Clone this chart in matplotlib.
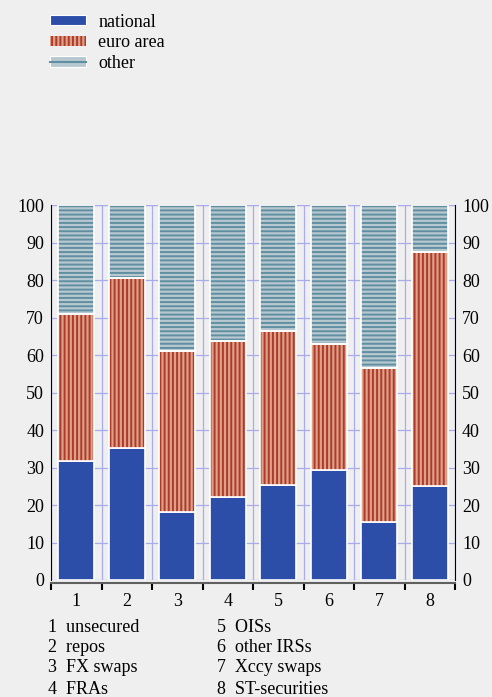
import numpy as np
import matplotlib
matplotlib.use("Agg")
import matplotlib.pyplot as plt
from matplotlib.patches import Patch
from matplotlib.lines import Line2D

plt.rcParams['font.family'] = ['Liberation Serif', 'DejaVu Serif']
plt.rcParams['font.size'] = 13
plt.rcParams['hatch.linewidth'] = 1.4

# data (percent shares)
categories = ["1", "2", "3", "4", "5", "6", "7", "8"]
national = [31.8, 35.2, 18.2, 22.2, 25.4, 29.3, 15.6, 25.1]
euro_top = [70.9, 80.5, 61.0, 63.7, 66.3, 63.0, 56.6, 87.6]
cat_names = ["unsecured", "repos", "FX swaps", "FRAs",
             "OISs", "other IRSs", "Xccy swaps", "ST-securities"]

national = np.array(national)
euro_area = np.array(euro_top) - national
other = 100 - np.array(euro_top)

bg = "#efefef"
c_nat = "#2c4ea8"
c_euro = "#dba18b"
c_euro_h = "#b03a28"
c_oth = "#b8c8d0"
c_oth_h = "#5f8fa0"
grid_c = "#a8acec"

fig = plt.figure(figsize=(4.92, 6.97), dpi=100, facecolor=bg)
ax = fig.add_axes([51/492, 1-580/697, 404/492, 375/697], facecolor=bg)

x = np.arange(1, len(categories)+1)
w = 0.71

ax.bar(x, national, w, color=c_nat, edgecolor="white", linewidth=1.2, zorder=3)
ax.bar(x, euro_area, w, bottom=national, color=c_euro, edgecolor=c_euro_h,
       hatch="||||", linewidth=0, zorder=3)
ax.bar(x, other, w, bottom=national+euro_area, color=c_oth, edgecolor=c_oth_h,
       hatch="----", linewidth=0, zorder=3)
# white outlines over the hatched segments
ax.bar(x, euro_area, w, bottom=national, fill=False, edgecolor="white", linewidth=1.2, zorder=4)
ax.bar(x, other, w, bottom=national+euro_area, fill=False, edgecolor="white", linewidth=1.2, zorder=4)

ax.set_xlim(0.5, 8.5)
ax.set_ylim(0, 100)
ax.set_yticks(np.arange(0, 101, 10))
ax.set_xticks(x)
ax.set_xticklabels(categories)
ax.set_xticks(np.arange(0.5, 9, 1), minor=True)

ax.grid(True, which="major", axis="y", color=grid_c, lw=0.9, zorder=1)
ax.grid(True, which="minor", axis="x", color=grid_c, lw=0.9, zorder=1)
ax.axhline(100, color=grid_c, lw=0.9, zorder=1)

ax.tick_params(axis="y", which="both", length=0, labelright=True, pad=5, labelsize=13)
ax.tick_params(axis="x", which="major", length=0, pad=7, labelsize=13)
ax.tick_params(axis="x", which="minor", length=5, width=1.5, color="black", direction="out")

ax.spines["top"].set_visible(False)
ax.spines["left"].set_color("black")
ax.spines["right"].set_color("black")
ax.spines["bottom"].set_color("#606060")
ax.spines["bottom"].set_linewidth(1.5)
ax.spines["bottom"].set_position(("outward", 2))

# legend
h_nat = Patch(facecolor=c_nat, edgecolor="white", lw=0.8)
h_euro = Patch(facecolor=c_euro, edgecolor=c_euro_h, hatch="||||", lw=0)
h_oth = (Patch(facecolor=c_oth, edgecolor="white", lw=0.8),
         Line2D([], [], color=c_oth_h, lw=1.5))
fig.legend([h_nat, h_euro, h_oth], ["national", "euro area", "other"],
           loc="upper left", bbox_to_anchor=(37/492, 1-1/697),
           frameon=False, fontsize=13, handlelength=2.0, handleheight=0.5,
           labelspacing=0.2, handletextpad=0.7, borderpad=0.2)

# category key below axis
rows_y = [627, 648, 668, 689]
for i, name in enumerate(cat_names):
    col = i // 4
    row = i % 4
    xx = (48 if col == 0 else 217) / 492
    fig.text(xx, 1-rows_y[row]/697, f"{i+1}  {name}", fontsize=13, va="center", ha="left")

fig.savefig("out.png", dpi=100, facecolor=bg)
